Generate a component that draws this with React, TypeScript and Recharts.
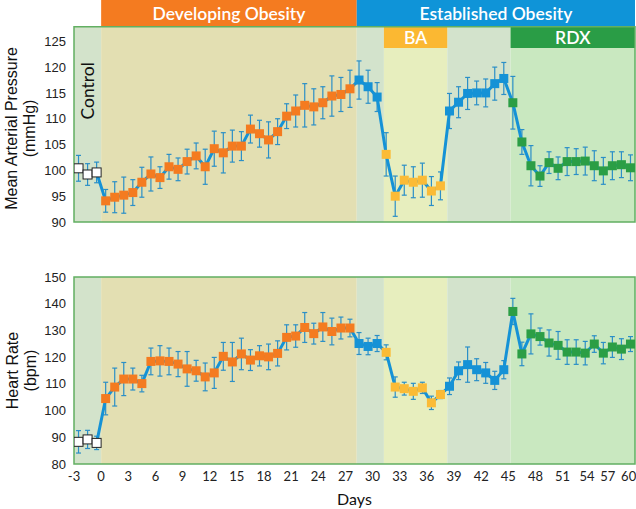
import React from 'react';
import { LineChart, Line, XAxis, YAxis, ErrorBar, ReferenceArea } from 'recharts';

// study days, one measurement per day
const DAYS = [
  -3, -2, -1, 0, 1, 2, 3, 4, 5, 6, 7, 8, 9, 10, 11, 12, 13, 14, 15, 16, 17, 18, 19, 20,
  21, 22, 23, 24, 25, 26, 27, 28, 29, 30, 31, 32, 33, 34, 35, 36, 37, 38, 39, 40, 41, 42,
  43, 44, 45, 46, 47, 48, 49, 50, 51, 52, 53, 54, 55, 56, 57, 58,
];

// mean arterial pressure (mmHg), mean and SEM
const MAP_MEAN = [
  100.4, 99.2, 99.6,
  94.1, 94.8, 95.2, 95.7, 97.7, 99.3, 98.6, 100.7, 100.2, 101.7, 102.8, 100.7, 104.2, 103.4,
  104.7, 104.7, 108.0, 107.1, 105.9, 107.5, 110.5, 111.5, 112.6, 112.3, 113.1, 114.4, 114.7, 115.8,
  117.5, 116.2, 114.2,
  103.1, 95.0, 98.1, 97.7, 98.1, 96.0, 97.0,
  111.5, 113.2, 114.9, 115.0, 115.0, 116.8, 117.8,
  113.1, 105.5, 100.9, 98.9, 101.5, 100.4, 101.7, 101.7, 101.8, 100.9, 99.9, 100.9, 101.1, 100.5,
];
const MAP_SEM = [
  2.5, 2.1, 2.0,
  2.2, 3.0, 3.5, 2.5, 2.9, 3.3, 2.1, 2.4, 2.2, 2.4, 2.5, 3.4, 3.4, 3.9,
  3.1, 2.8, 2.7, 2.6, 3.5, 2.5, 2.4, 3.1, 4.2, 3.5, 3.1, 3.9, 3.3, 3.6,
  3.7, 3.2, 2.8,
  4.2, 3.9, 2.9, 3.0, 3.3, 2.8, 2.7,
  3.4, 3.0, 3.1, 2.3, 2.7, 3.2, 3.1,
  5.1, 2.4, 3.9, 2.0, 2.1, 2.2, 2.7, 2.5, 2.7, 2.9, 2.6, 2.7, 2.5, 2.5,
];

// heart rate (bpm), mean and SEM
const HR_MEAN = [
  88.3, 89.2, 87.9,
  104.5, 108.8, 111.8, 111.8, 110.1, 118.4, 118.6, 118.4, 117.4, 115.6, 114.9, 112.6, 114.1, 120.3,
  118.2, 121.2, 118.9, 120.5, 120.1, 121.4, 127.4, 127.9, 131.1, 128.8, 131.3, 129.6, 130.9, 130.9,
  125.1, 124.0, 125.1,
  121.8, 108.8, 108.2, 107.2, 108.5, 102.9, 106.0,
  109.1, 114.9, 117.2, 115.3, 114.1, 111.3, 115.3,
  137.1, 121.2, 128.7, 127.7, 125.3, 124.4, 121.9, 121.9, 121.5, 124.9, 121.5, 123.8, 123.0, 124.9,
];
const HR_SEM = [
  4.2, 3.4, 2.5,
  6.1, 7.1, 6.2, 4.1, 3.1, 5.0, 5.7, 5.0, 4.7, 6.5, 3.9, 5.2, 5.8, 5.2,
  7.3, 5.9, 3.9, 3.8, 4.8, 4.7, 4.7, 4.2, 5.6, 3.9, 5.4, 5.0, 4.1, 3.3,
  4.1, 3.1, 3.0,
  2.8, 3.8, 2.4, 3.0, 2.1, 2.5, 1.5,
  3.1, 3.3, 6.6, 4.1, 3.9, 3.4, 3.4,
  4.9, 4.4, 7.5, 3.2, 4.9, 5.2, 4.6, 4.6, 4.4, 3.1, 4.0, 3.9, 3.9, 2.8,
];

const DAY_TICK_LABELS = [-3, 0, 3, 6, 9, 12, 15, 18, 21, 24, 27, 30, 33, 36, 39, 42, 45, 48, 51, 54, 57, 60];
const MAP_TICKS = [90, 95, 100, 105, 110, 115, 120, 125];
const HR_TICKS = [80, 90, 100, 110, 120, 130, 140, 150];

const X_MIN = -3.5;
const X_MAX = 58.5;
const MAP_MIN = 90;
const MAP_PLOT_TOP = 127.8;
const MAP_AXIS_TOP = 133;
const BAR_BOTTOM = 123.7;

// experimental periods (day boundaries)
const PERIODS = [
  { key: 'control', from: X_MIN, to: -0.5, bg: '#d3e3cb', marker: '#ffffff' },
  { key: 'developing', from: -0.5, to: 27.75, bg: '#e3dfb2', marker: '#f47b20' },
  { key: 'established', from: 27.75, to: 30.75, bg: '#d3e3cc', marker: '#1592d6' },
  { key: 'ba', from: 30.75, to: 37.75, bg: '#e7eebe', marker: '#fbbb36' },
  { key: 'washout', from: 37.75, to: 44.75, bg: '#d3e3cc', marker: '#1592d6' },
  { key: 'rdx', from: 44.75, to: X_MAX, bg: '#c9e8c0', marker: '#2b9e45' },
];

const HEADERS = [
  { label: 'Developing Obesity', from: -0.5, to: 27.75, fill: '#f47b20' },
  { label: 'Established Obesity', from: 27.75, to: X_MAX, fill: '#0f94d8' },
];
const TREATMENTS = [
  { label: 'BA', from: 30.75, to: 37.75, fill: '#fbb832' },
  { label: 'RDX', from: 44.75, to: X_MAX, fill: '#2a9d46' },
];

const FONT = 'Lato, "Noto Sans", sans-serif';
const ARIAL = '"Liberation Sans", Arial, sans-serif';
const LINE_BLUE = '#1592d6';
const ERR_BLUE = '#2b8fc7';
const BORDER = '#62af62';

const rows = DAYS.map((day, i) => ({
  day,
  map: MAP_MEAN[i],
  mapErr: MAP_SEM[i],
  hr: HR_MEAN[i],
  hrErr: HR_SEM[i],
}));

function periodOf(day: number) {
  return PERIODS.find((p) => day >= p.from && day < p.to) ?? PERIODS[PERIODS.length - 1];
}

const renderMarker = (props: any) => {
  const { cx, cy, payload, index } = props;
  if (cx == null || cy == null) return <g key={`m-${index}`} />;
  const p = periodOf(payload.day);
  const isControl = p.key === 'control';
  return (
    <rect
      key={`m-${index}`}
      x={cx - 4.5}
      y={cy - 4.5}
      width={9}
      height={9}
      fill={p.marker}
      stroke={isControl ? '#222' : p.marker}
      strokeWidth={isControl ? 1 : 0}
    />
  );
};

// two-line rotated y axis title, centred on the framed plot area
const axisTitle = (lines: string[], top: number, min: number, plotTop: number, shift: number) => (props: any) => {
  const { viewBox } = props;
  const frac = (top - (plotTop + min) / 2) / (top - min);
  const cy = viewBox.y + viewBox.height * frac + shift;
  const xs = [12, 30];
  return (
    <g>
      {lines.map((line, i) => (
        <text
          key={line}
          x={xs[i]}
          y={cy}
          transform={`rotate(-90, ${xs[i]}, ${cy})`}
          textAnchor="middle"
          dominantBaseline="central"
          fontSize={16}
          fontFamily={ARIAL}
          fill="#111"
        >
          {line}
        </text>
      ))}
    </g>
  );
};

const controlLabel = (props: any) => {
  const { viewBox } = props;
  const cx = viewBox.x + viewBox.width / 2;
  const cy = viewBox.y + 64;
  return (
    <text
      x={cx}
      y={cy}
      transform={`rotate(-90, ${cx}, ${cy})`}
      textAnchor="middle"
      dominantBaseline="central"
      fontSize={17.5}
      fontFamily={FONT}
      fill="#111"
    >
      Control
    </text>
  );
};

const whiteLabel = (value: string) => ({
  value,
  position: 'center' as const,
  fill: '#ffffff',
  fontSize: 17.5,
  fontFamily: FONT,
  fontWeight: 600,
});

const backgrounds = (yMin: number, yMax: number, withControlLabel: boolean) =>
  PERIODS.map((p) => (
    <ReferenceArea
      key={p.key}
      x1={p.from}
      x2={p.to}
      y1={yMin}
      y2={yMax}
      fill={p.bg}
      fillOpacity={1}
      stroke="none"
      label={withControlLabel && p.key === 'control' ? { content: controlLabel } : undefined}
    />
  ));

export default function App() {
  // tick labels sit between days; the last ones crowd in against the right edge like the original
  const edge = X_MAX - 0.7;
  const xTicks = DAY_TICK_LABELS.map((d) => Math.min(d - 0.5, edge - (2.3 * (60 - d)) / 3));

  return (
    <div style={{ position: 'absolute', left: 0, top: 0, width: 636, height: 509, background: '#fff' }}>
      <div style={{ position: 'absolute', left: 0, top: 0 }}>
        <LineChart width={636} height={240} data={rows} margin={{ top: 0, right: 1, bottom: 18, left: 0 }}>
          <XAxis type="number" dataKey="day" domain={[X_MIN, X_MAX]} hide allowDataOverflow />
          <YAxis
            type="number"
            domain={[MAP_MIN, MAP_AXIS_TOP]}
            ticks={MAP_TICKS}
            interval={0}
            width={74}
            axisLine={false}
            tickLine={false}
            allowDataOverflow
            tick={{ fontSize: 13, fill: '#222', fontFamily: ARIAL }}
            label={{ content: axisTitle(['Mean Arterial Pressure', '(mmHg)'], MAP_AXIS_TOP, MAP_MIN, MAP_PLOT_TOP, 4) }}
          />
          {backgrounds(MAP_MIN, MAP_PLOT_TOP, true)}
          {HEADERS.map((h) => (
            <ReferenceArea
              key={h.label}
              x1={h.from}
              x2={h.to}
              y1={MAP_PLOT_TOP}
              y2={MAP_AXIS_TOP}
              fill={h.fill}
              fillOpacity={1}
              stroke="none"
              label={whiteLabel(h.label)}
            />
          ))}
          {TREATMENTS.map((t) => (
            <ReferenceArea
              key={t.label}
              x1={t.from}
              x2={t.to}
              y1={BAR_BOTTOM}
              y2={MAP_PLOT_TOP}
              fill={t.fill}
              fillOpacity={1}
              stroke="none"
              label={whiteLabel(t.label)}
            />
          ))}
          <ReferenceArea
            x1={X_MIN}
            x2={X_MAX}
            y1={MAP_MIN}
            y2={MAP_PLOT_TOP}
            fill="none"
            stroke={BORDER}
            strokeWidth={1.5}
          />
          <Line
            type="linear"
            dataKey="map"
            stroke={LINE_BLUE}
            strokeWidth={3}
            dot={renderMarker}
            activeDot={false}
            isAnimationActive={false}
          >
            <ErrorBar dataKey="mapErr" direction="y" width={2.5} stroke={ERR_BLUE} strokeWidth={1.2} />
          </Line>
        </LineChart>
      </div>

      <div style={{ position: 'absolute', left: 0, top: 240 }}>
        <LineChart width={636} height={269} data={rows} margin={{ top: 37, right: 1, bottom: 0, left: 0 }}>
          <XAxis
            type="number"
            dataKey="day"
            domain={[X_MIN, X_MAX]}
            allowDataOverflow
            ticks={xTicks}
            interval={0}
            tickFormatter={(_v: number, i: number) => String(DAY_TICK_LABELS[i])}
            axisLine={false}
            tickLine={false}
            height={45}
            tick={{ fontSize: 13, fill: '#222', fontFamily: FONT }}
            label={{ value: 'Days', position: 'insideBottom', offset: 4, fontSize: 16, fill: '#111', fontFamily: FONT }}
          />
          <YAxis
            type="number"
            domain={[80, 150]}
            ticks={HR_TICKS}
            interval={0}
            width={74}
            axisLine={false}
            tickLine={false}
            allowDataOverflow
            tick={{ fontSize: 13, fill: '#222', fontFamily: ARIAL }}
            label={{ content: axisTitle(['Heart Rate', '(bpm)'], 150, 80, 150, 0) }}
          />
          {backgrounds(80, 150, false)}
          <ReferenceArea x1={X_MIN} x2={X_MAX} y1={80} y2={150} fill="none" stroke={BORDER} strokeWidth={1.5} />
          <Line
            type="linear"
            dataKey="hr"
            stroke={LINE_BLUE}
            strokeWidth={3}
            dot={renderMarker}
            activeDot={false}
            isAnimationActive={false}
          >
            <ErrorBar dataKey="hrErr" direction="y" width={2.5} stroke={ERR_BLUE} strokeWidth={1.2} />
          </Line>
        </LineChart>
      </div>
    </div>
  );
}
